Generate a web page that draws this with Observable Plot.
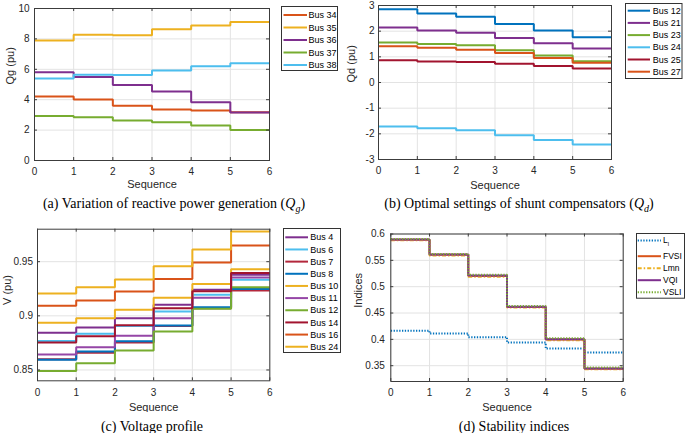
<!DOCTYPE html>
<html><head><meta charset="utf-8">
<script src="https://cdn.jsdelivr.net/npm/d3@7"></script>
<script src="https://cdn.jsdelivr.net/npm/@observablehq/plot@0.6"></script>
<style>
body{margin:0;background:#fff;}
#fig{position:relative;width:685px;height:433px;overflow:hidden;background:#fff;}
.panel{position:absolute;}
.cap{position:absolute;font-family:"Liberation Serif","Times New Roman",serif;font-size:14px;color:#000;white-space:nowrap;transform:translate(-50%,-50%);line-height:1;}
.cap sub{font-size:10px;vertical-align:-4px;line-height:0;}
</style></head><body><div id="fig"></div>
<script>
// ---------- data ----------
const seq = [0, 1, 2, 3, 4, 5, 6];

// (a) reactive power generation Qg
const qgBuses = ["Bus 34", "Bus 35", "Bus 36", "Bus 37", "Bus 38"];
const qgColors = ["#D95319", "#EDB120", "#7E2F8E", "#77AC30", "#4DBEEE"];
const qgBus34 = [4.21, 4.01, 3.60, 3.36, 3.29, 3.18, 3.18];
const qgBus35 = [7.89, 8.27, 8.24, 8.63, 8.88, 9.11, 9.11];
const qgBus36 = [5.81, 5.50, 4.96, 4.54, 3.84, 3.16, 3.16];
const qgBus37 = [2.92, 2.85, 2.63, 2.52, 2.30, 2.00, 2.00];
const qgBus38 = [5.39, 5.64, 5.62, 5.92, 6.20, 6.40, 6.40];
const qgTicks = [0, 2, 4, 6, 8, 10];

// (b) shunt compensators Qd
const qdBuses = ["Bus 12", "Bus 21", "Bus 23", "Bus 24", "Bus 25", "Bus 27"];
const qdColors = ["#0072BD", "#7E2F8E", "#77AC30", "#4DBEEE", "#A2142F", "#D95319"];
const qdBus12 = [2.85, 2.69, 2.56, 2.28, 2.03, 1.76, 1.76];
const qdBus21 = [2.14, 2.03, 1.94, 1.73, 1.53, 1.32, 1.32];
const qdBus23 = [1.56, 1.50, 1.45, 1.26, 1.05, 0.83, 0.83];
const qdBus24 = [-1.71, -1.78, -1.86, -2.06, -2.24, -2.42, -2.42];
const qdBus25 = [0.87, 0.82, 0.80, 0.73, 0.64, 0.55, 0.55];
const qdBus27 = [1.41, 1.35, 1.28, 1.15, 0.95, 0.77, 0.77];
const qdTicks = [-3, -2, -1, 0, 1, 2, 3];

// (c) voltage profile
const vBuses = ["Bus 4", "Bus 6", "Bus 7", "Bus 8", "Bus 10", "Bus 11", "Bus 12", "Bus 14", "Bus 16", "Bus 24"];
const vColors = ["#7E2F8E", "#4DBEEE", "#B3283C", "#0072BD", "#EDB120", "#9546A6", "#77AC30", "#A2142F", "#D95319", "#EDB120"];
const vBus4  = [0.8843, 0.8893, 0.8978, 0.9102, 0.9240, 0.9380, 0.9380];
const vBus6  = [0.8768, 0.8834, 0.8905, 0.9040, 0.9194, 0.9333, 0.9333];
const vBus7  = [0.8600, 0.8658, 0.8753, 0.8905, 0.9070, 0.9235, 0.9235];
const vBus8  = [0.8594, 0.8670, 0.8766, 0.8910, 0.9080, 0.9247, 0.9247];
const vBus10 = [0.8935, 0.8978, 0.9055, 0.9166, 0.9295, 0.9429, 0.9429];
const vBus11 = [0.8643, 0.8710, 0.8815, 0.8978, 0.9166, 0.9355, 0.9355];
const vBus12 = [0.8490, 0.8562, 0.8680, 0.8855, 0.9065, 0.9265, 0.9265];
const vBus14 = [0.8753, 0.8812, 0.8913, 0.9070, 0.9228, 0.9395, 0.9395];
const vBus16 = [0.9092, 0.9141, 0.9224, 0.9341, 0.9492, 0.9650, 0.9650];
const vBus24 = [0.9207, 0.9264, 0.9335, 0.9458, 0.9612, 0.9778, 0.9778];
const vTicks = [0.85, 0.9, 0.95];

// (d) stability indices
const idxNames = ["L_l", "FVSI", "Lmn", "VQI", "VSLI"];
const idxColors = ["#0072BD", "#D95319", "#EDB120", "#7E2F8E", "#77AC30"];
const idxDash = ["1.3,1.5", null, "4,2,1.5,2", null, "1.3,1.5"];
const idxLl   = [0.4163, 0.4112, 0.4042, 0.3940, 0.3825, 0.3749, 0.3749];
const idxFVSI = [0.5890, 0.5605, 0.5205, 0.4615, 0.3995, 0.3440, 0.3440];
const idxLmn  = [0.5882, 0.5592, 0.5188, 0.4603, 0.3983, 0.3432, 0.3432];
const idxVQI  = [0.5895, 0.5610, 0.5212, 0.4620, 0.4002, 0.3445, 0.3445];
const idxVSLI = [0.5905, 0.5622, 0.5225, 0.4635, 0.4022, 0.3465, 0.3465];
const idxTicks = [0.35, 0.4, 0.45, 0.5, 0.55, 0.6];

// ---------- helpers ----------
const fig = document.getElementById("fig");
function longTable(names, series) {
  return names.flatMap((n, i) => seq.map((s, j) => ({seq: s, value: series[i][j], name: n})));
}
const FRAME = "#3c3c3c", GRID = "#e3e3e3";

function panel(c) {
  const innerW = c.width - c.ml - c.mr, innerH = c.height - c.mt - c.mb;
  const marks = [
    Plot.ruleX(seq, {x: d => d, stroke: GRID}),
    Plot.ruleY(c.yticks, {y: d => d, stroke: GRID}),
    ...c.lineMarks,
    Plot.frame({stroke: FRAME}),
    Plot.tickX(seq, {x: d => d, insetTop: innerH - 3, stroke: FRAME}),
    Plot.tickX(seq, {x: d => d, insetBottom: innerH - 3, stroke: FRAME}),
    Plot.tickY(c.yticks, {y: d => d, insetRight: innerW - 3, stroke: FRAME}),
    Plot.tickY(c.yticks, {y: d => d, insetLeft: innerW - 3, stroke: FRAME}),
    Plot.axisX(seq, {tickSize: 0, tickPadding: c.xpad, tickFormat: d => String(d), label: null, fontSize: 10, fill: "#262626"}),
    Plot.axisY(c.yticks, {tickSize: 0, tickPadding: c.ypad, tickFormat: d => String(d), label: null, fontSize: 10, fill: "#262626"}),
    Plot.text([c.ylabel], {text: d => d, frameAnchor: "left", rotate: -90, dx: c.ylabelDx, fontSize: 11, lineAnchor: "middle", fill: "#262626"}),
    Plot.text(["Sequence"], {text: d => d, frameAnchor: "bottom", dy: c.seqDy, fontSize: 11, lineAnchor: "middle", fill: "#262626"})
  ];
  const svg = Plot.plot({
    width: c.width, height: c.height,
    marginLeft: c.ml, marginRight: c.mr, marginTop: c.mt, marginBottom: c.mb,
    x: {domain: [0, 6]},
    y: {domain: c.ydomain},
    color: c.color,
    style: {fontFamily: '"Liberation Sans", Arial, sans-serif', background: "white", overflow: "hidden"},
    marks
  });
  const div = document.createElement("div");
  div.className = "panel";
  div.style.left = c.left + "px"; div.style.top = c.top + "px";
  div.appendChild(svg);
  fig.appendChild(div);
}

function stepLines(names, series) {
  return Plot.line(longTable(names, series), {
    x: "seq", y: "value", z: "name", stroke: "name", curve: "step-after",
    strokeWidth: 2, strokeLinejoin: "miter", strokeLinecap: "butt"
  });
}

function legend(c) {
  const svg = d3.create("svg")
    .attr("width", c.w + 2).attr("height", c.h + 2)
    .style("position", "absolute").style("left", (c.left - 1) + "px").style("top", (c.top - 1) + "px");
  svg.append("rect").attr("x", 1.5).attr("y", 1.5).attr("width", c.w - 1).attr("height", c.h - 1)
    .attr("fill", "#fff").attr("stroke", "#333").attr("stroke-width", 1);
  c.names.forEach((n, i) => {
    const y = 1 + c.ys[i];
    svg.append("line").attr("x1", 1 + c.sx0).attr("x2", 1 + c.sx1).attr("y1", y).attr("y2", y)
      .attr("stroke", c.colors[i]).attr("stroke-width", 2)
      .attr("stroke-dasharray", c.dash ? c.dash[i] : null);
    const t = svg.append("text").attr("x", 1 + c.tx).attr("y", y).attr("dy", "0.35em")
      .attr("font-family", '"Liberation Sans", Arial, sans-serif').attr("font-size", c.font).attr("fill", "#000");
    const parts = n.split("_");
    t.append("tspan").text(parts[0]);
    if (parts[1]) t.append("tspan").attr("dy", "0.45em").attr("font-size", c.font * 0.7).text(parts[1]);
  });
  fig.appendChild(svg.node());
}

function caption(html, x, y) {
  const d = document.createElement("div");
  d.className = "cap"; d.innerHTML = html;
  d.style.left = x + "px"; d.style.top = y + "px";
  fig.appendChild(d);
}

// ---------- (a) ----------
panel({
  left: 0, top: 0, width: 342, height: 196, ml: 34, mr: 73, mt: 8, mb: 36,
  ydomain: [0, 10], yticks: qgTicks, xpad: 7, ypad: 5, ylabel: "Qg (pu)", ylabelDx: -24, seqDy: 24,
  color: {domain: qgBuses, range: qgColors},
  lineMarks: [stepLines(qgBuses, [qgBus34, qgBus35, qgBus36, qgBus37, qgBus38])]
});
legend({left: 281, top: 6, w: 57, h: 65, names: qgBuses, colors: qgColors,
  ys: qgBuses.map((_, i) => 9 + i * 12.5), sx0: 2.5, sx1: 26, tx: 27.5, font: 9});
caption("(a) Variation of reactive power generation (<i>Q</i><sub><i>g</i></sub>)", 174, 204);

// ---------- (b) ----------
panel({
  left: 342, top: 0, width: 343, height: 196, ml: 36, mr: 74, mt: 5, mb: 37,
  ydomain: [-3, 3], yticks: qdTicks, xpad: 7.5, ypad: 4, ylabel: "Qd (pu)", ylabelDx: -26.7, seqDy: 25.5,
  color: {domain: qdBuses, range: qdColors},
  lineMarks: [stepLines(qdBuses, [qdBus12, qdBus21, qdBus23, qdBus24, qdBus25, qdBus27])]
});
legend({left: 625, top: 3, w: 57.5, h: 76, names: qdBuses, colors: qdColors,
  ys: qdBuses.map((_, i) => 7.7 + i * 12.2), sx0: 2.7, sx1: 25, tx: 27.7, font: 9});
caption("(b) Optimal settings of shunt compensators (<i>Q</i><sub><i>d</i></sub>)", 519, 204);

// ---------- (c) ----------
panel({
  left: 0, top: 216, width: 342, height: 196, ml: 37, mr: 72.7, mt: 12.7, mb: 31.7,
  ydomain: [0.84, 0.98], yticks: vTicks, xpad: 8, ypad: 4.5, ylabel: "V (pu)", ylabelDx: -30.5, seqDy: 26.4,
  color: {domain: vBuses, range: vColors},
  lineMarks: [stepLines(vBuses, [vBus4, vBus6, vBus7, vBus8, vBus10, vBus11, vBus12, vBus14, vBus16, vBus24])]
});
legend({left: 283, top: 228, w: 58, h: 125, names: vBuses, colors: vColors,
  ys: vBuses.map((_, i) => 9.3 + i * 12.16), sx0: 2.3, sx1: 25, tx: 27.3, font: 9});
caption("(c) Voltage profile", 152, 427);

// ---------- (d) ----------
const idxSeries = [idxLl, idxFVSI, idxLmn, idxVQI, idxVSLI];
panel({
  left: 342, top: 216, width: 343, height: 196, ml: 48.3, mr: 62.3, mt: 17.5, mb: 31,
  ydomain: [0.32, 0.6], yticks: idxTicks, xpad: 7.4, ypad: 6, ylabel: "Indices", ylabelDx: -32.3, seqDy: 25.7,
  color: {domain: idxNames, range: idxColors},
  lineMarks: idxNames.map((n, i) => Plot.line(longTable([n], [idxSeries[i]]), {
    x: "seq", y: "value", stroke: "name", curve: "step-after", strokeWidth: 2,
    strokeDasharray: idxDash[i], strokeLinejoin: "miter", strokeLinecap: "butt"
  }))
});
legend({left: 635.5, top: 233.3, w: 49, h: 65.7, names: idxNames, colors: idxColors, dash: idxDash,
  ys: [7.5, 23.2, 35.2, 47.2, 59.2], sx0: 1.7, sx1: 25, tx: 27, font: 8.5});
caption("(d) Stability indices", 514, 427);
</script></body></html>
